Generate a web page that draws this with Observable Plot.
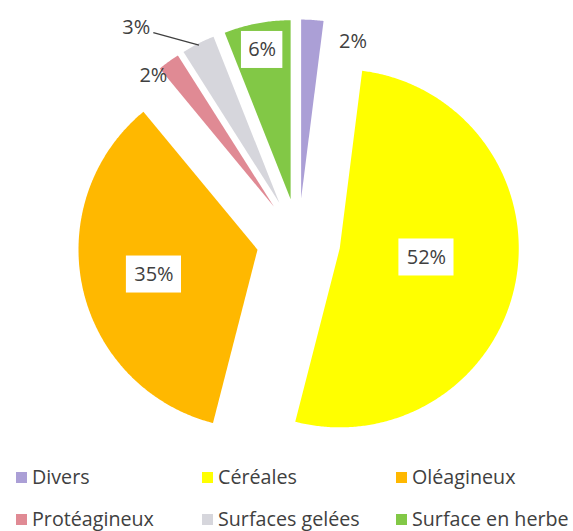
<!DOCTYPE html>
<html><head><meta charset="utf-8">
<script src="https://cdn.jsdelivr.net/npm/d3@7"></script>
<script src="https://cdn.jsdelivr.net/npm/@observablehq/plot@0.6"></script>
<style>
body{margin:0;background:#fff;font-family:"Open Sans",sans-serif;}
#chart{width:573px;height:531px;overflow:hidden;}
#chart svg{display:block;}
.legend{display:grid;grid-template-columns:186px 194px auto;padding-left:16px;padding-top:9px;row-gap:16px;color:#404040;font-size:19.7px;}
.legend .item{display:flex;align-items:center;height:26px;line-height:26px;white-space:nowrap;}
.legend .sw{width:11px;height:11px;margin-right:5px;flex:none;}
</style></head><body><div id="chart"></div>
<script>
// ---- data ----
const categories = ["Divers", "Céréales", "Oléagineux", "Protéagineux", "Surfaces gelées", "Surface en herbe"];
const values = [2, 52, 35, 2, 3, 6];
const labels = ["2%", "52%", "35%", "2%", "3%", "6%"];
const colors = ["#ab9fd6", "#ffff00", "#ffb800", "#e08a94", "#d6d6dc", "#82c846"];

// ---- layout ----
const W = 573, H = 455, R = 179, CX = 298, CY = 240, EXPLODE = 42 / 179;
const labelLayout = [
  {r: 0.922, da: 14.7, box: false},
  {r: 0.487, da: -4.8, box: true},
  {r: 0.595, da: -0.9, box: true},
  {r: 0.994, da: -6.6, box: false},
  {r: 1.265, da: -12.2, box: false, leader: true},
  {r: 0.849, da: 0, box: true}
];
const textColor = "#404040";
const fontSize = 20;

const arcs = d3.pie().sort(null).value(d => d)(values);
const slicePts = [];
const labelData = [];
const boxData = [];
const leaders = [];
arcs.forEach((a, i) => {
  const mid = (a.startAngle + a.endAngle) / 2;
  const ox = EXPLODE * Math.sin(mid), oy = -EXPLODE * Math.cos(mid);
  const cat = categories[i];
  slicePts.push({cat, x: ox, y: oy});
  const n = Math.max(4, Math.ceil((a.endAngle - a.startAngle) * 120));
  for (let k = 0; k <= n; k++) {
    const t = a.startAngle + (a.endAngle - a.startAngle) * k / n;
    slicePts.push({cat, x: ox + Math.sin(t), y: oy - Math.cos(t)});
  }
  slicePts.push({cat, x: ox, y: oy});
  const L = labelLayout[i];
  const la = mid + L.da * Math.PI / 180;
  const lx = ox + L.r * Math.sin(la), ly = oy - L.r * Math.cos(la);
  labelData.push({x: lx, y: ly, text: labels[i]});
  if (L.box) {
    const bw = (14 + 13.7 * labels[i].length) / R, bh = 37 / R;
    boxData.push({x1: lx - bw / 2, x2: lx + bw / 2, y1: ly - bh / 2, y2: ly + bh / 2});
  }
  if (L.leader) {
    leaders.push({x1: lx + 17 / R, y1: ly + 5 / R, x2: ox + 0.99 * Math.sin(mid), y2: oy - 0.99 * Math.cos(mid)});
  }
});

const plot = Plot.plot({
  width: W, height: H, margin: 0,
  style: {fontFamily: "Open Sans", background: "white"},
  x: {domain: [-CX / R, (W - CX) / R], range: [0, W], axis: null},
  y: {domain: [-CY / R, (H - CY) / R], range: [0, H], axis: null},
  color: {domain: categories, range: colors},
  marks: [
    Plot.line(slicePts, {x: "x", y: "y", z: "cat", fill: "cat", stroke: "none", curve: "linear"}),
    Plot.rect(boxData, {x1: "x1", x2: "x2", y1: "y1", y2: "y2", fill: "white"}),
    Plot.link(leaders, {x1: "x1", y1: "y1", x2: "x2", y2: "y2", stroke: textColor, strokeWidth: 1.3}),
    Plot.text(labelData, {x: "x", y: "y", text: "text", fill: textColor, fontSize: fontSize, fontFamily: "Open Sans"})
  ]
});
const chart = document.getElementById("chart");
chart.appendChild(plot);

const legend = document.createElement("div");
legend.className = "legend";
categories.forEach((c, i) => {
  const it = document.createElement("div");
  it.className = "item";
  const sw = document.createElement("span");
  sw.className = "sw";
  sw.style.background = colors[i];
  const tx = document.createElement("span");
  tx.textContent = c;
  it.appendChild(sw); it.appendChild(tx);
  legend.appendChild(it);
});
chart.appendChild(legend);
</script></body></html>
